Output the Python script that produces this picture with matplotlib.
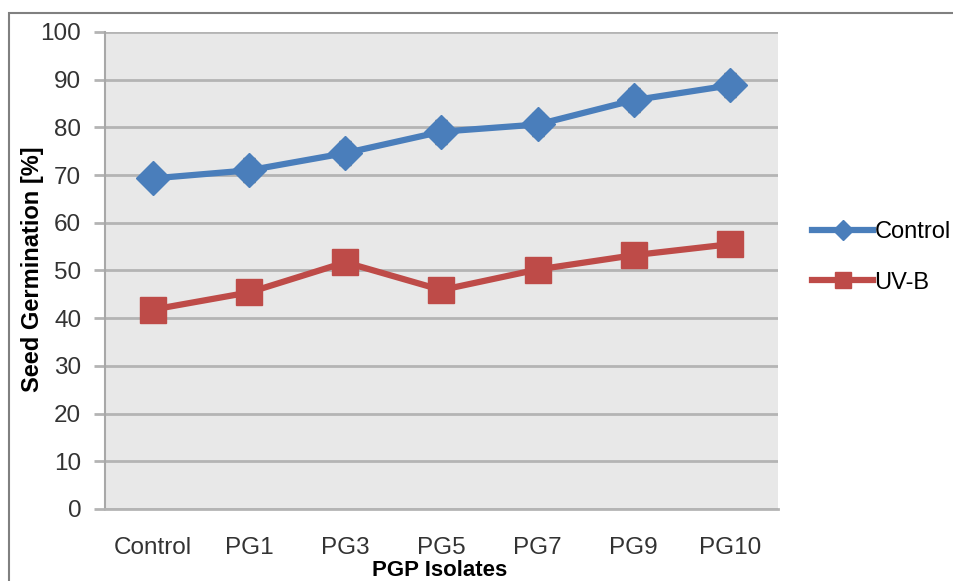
import matplotlib
matplotlib.use("Agg")
import matplotlib.pyplot as plt
from matplotlib.patches import Rectangle

plt.rcParams["font.family"] = ["Liberation Sans", "DejaVu Sans"]

isolates = ["Control", "PG1", "PG3", "PG5", "PG7", "PG9", "PG10"]
control = [69.3, 71.0, 74.6, 79.1, 80.6, 85.7, 88.8]
control_err = [1.5, 2.5, 2.5, 2.5, 2.5, 2.5, 2.5]
uvb = [41.8, 45.4, 51.7, 45.9, 50.2, 53.2, 55.5]
yticks = list(range(0, 101, 10))

fig = plt.figure(figsize=(9.54, 5.81), dpi=100)
ax = fig.add_axes([0.110, 0.124, 0.7055, 0.821])
ax.set_facecolor("#e8e8e8")

x = list(range(len(isolates)))
ax.errorbar(x, control, yerr=control_err, fmt="none", ecolor="#505050",
            elinewidth=1, capsize=4, zorder=2)
ax.plot(x, control, color="#4a7ebb", lw=4.5, marker="D", ms=17,
        mec="#4a7ebb", label="Control", zorder=3)
ax.plot(x, uvb, color="#be4b48", lw=4.5, marker="s", ms=19,
        mec="#be4b48", label="UV-B", zorder=3)

ax.set_xlim(-0.5, len(isolates) - 0.5)
ax.set_ylim(0, 100)
ax.set_yticks(yticks)
ax.set_xticks(x)
ax.set_xticklabels(isolates)
ax.yaxis.grid(True, color="#b4b4b4", lw=2)
ax.set_axisbelow(True)

for s in ["top", "right"]:
    ax.spines[s].set_visible(False)
ax.spines["left"].set_color("#a8a8a8")
ax.spines["left"].set_linewidth(1.5)
ax.spines["bottom"].set_color("#b4b4b4")
ax.spines["bottom"].set_linewidth(2)

ax.tick_params(axis="y", length=8, width=2, color="#b4b4b4", pad=9,
               labelsize=17.5, labelcolor="#333333")
ax.tick_params(axis="x", length=0, pad=20, labelsize=17.5, labelcolor="#333333")

ax.set_xlabel("PGP Isolates", fontsize=16, fontweight="bold", va="center")
ax.xaxis.set_label_coords(0.498, -0.128)
ax.set_ylabel("Seed Germination [%]", fontsize=17, fontweight="bold")
ax.yaxis.set_label_coords(-0.090, 0.503)

fig.legend(loc="center left", bbox_to_anchor=(0.851, 0.557), frameon=False,
           fontsize=17, handlelength=2.6, handletextpad=0.05,
           labelspacing=1.2, markerscale=0.6, borderaxespad=0, borderpad=0)

fig.patches.append(Rectangle((0.0094, -0.1), 1.2, 0.0776 + 1.0,
                             transform=fig.transFigure, fill=False,
                             edgecolor="#808080", lw=1.5))

fig.savefig("out.png", dpi=100)
